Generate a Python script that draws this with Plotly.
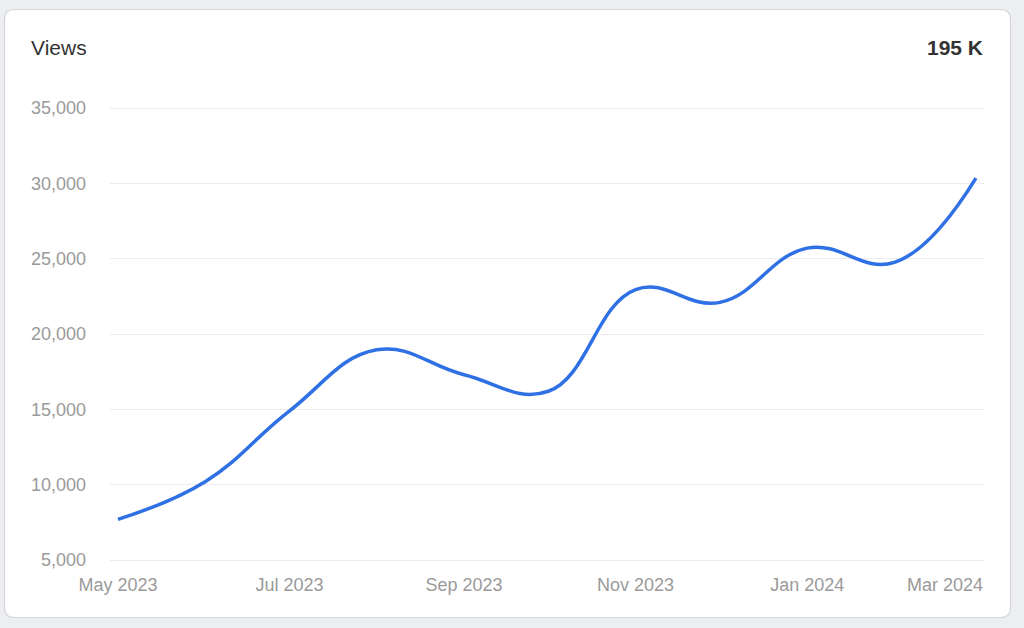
import plotly.graph_objects as go

# ---- data ----
months = ["2023-05-01", "2023-06-01", "2023-07-01", "2023-08-01", "2023-09-01",
          "2023-10-01", "2023-11-01", "2023-12-01", "2024-01-01", "2024-02-01",
          "2024-03-01"]
views = [7700, 10200, 14900, 18950, 17300, 16200, 22950, 22100, 25700, 24750, 30350]

tick_dates = ["2023-05-01", "2023-07-01", "2023-09-01", "2023-11-01", "2024-01-01", "2024-03-01"]
tick_labels = ["May 2023", "Jul 2023", "Sep 2023", "Nov 2023", "Jan 2024", "Mar 2024"]
y_ticks = [5000, 10000, 15000, 20000, 25000, 30000, 35000]

title_text = "Views"
total_text = "195 K"

# ---- layout geometry (pixels) ----
W, H = 1024, 628
PAD = 3
L, R, T, B = 110, 985, 108 - PAD, 560 + PAD   # plot area edges in pixels
Y0, Y1 = 5000, 35000
upp = (Y1 - Y0) / (B - T - 2 * PAD)            # value units per pixel

def px(x):
    return (x - L) / (R - L)

def py(y):
    return (B - y) / (B - T)

FONT = "Liberation Sans, Arial, Helvetica, sans-serif"

fig = go.Figure()
fig.add_trace(go.Scatter(
    x=months, y=views, mode="lines",
    line=dict(color="#2f71e5", width=3.5, shape="spline", smoothing=1.2),
    hoverinfo="x+y", showlegend=False,
))

# rounded card behind the chart
cx0, cy0, cx1, cy1, r = 4.5, 9.5, 1010.5, 617.5, 10
path = (
    f"M {px(cx0 + r)} {py(cy0)} L {px(cx1 - r)} {py(cy0)} "
    f"Q {px(cx1)} {py(cy0)} {px(cx1)} {py(cy0 + r)} "
    f"L {px(cx1)} {py(cy1 - r)} Q {px(cx1)} {py(cy1)} {px(cx1 - r)} {py(cy1)} "
    f"L {px(cx0 + r)} {py(cy1)} Q {px(cx0)} {py(cy1)} {px(cx0)} {py(cy1 - r)} "
    f"L {px(cx0)} {py(cy0 + r)} Q {px(cx0)} {py(cy0)} {px(cx0 + r)} {py(cy0)} Z"
)
fig.add_shape(type="path", path=path, xref="paper", yref="paper",
              fillcolor="white", line=dict(color="#d4d6da", width=1.2), layer="below")

fig.add_annotation(text=title_text, xref="paper", yref="paper", x=px(29), y=py(47),
                   xanchor="left", yanchor="middle", showarrow=False,
                   font=dict(family=FONT, size=21, color="#333333"))
fig.add_annotation(text=f"<b>{total_text}</b>", xref="paper", yref="paper", x=px(985), y=py(47),
                   xanchor="right", yanchor="middle", showarrow=False,
                   font=dict(family=FONT, size=21, color="#333333"))
# last x label is right-aligned inside the card
fig.add_annotation(text=tick_labels[-1], x=tick_dates[-1], xref="x", yref="paper", y=py(585),
                   xanchor="right", yanchor="middle", xshift=R - 976, showarrow=False,
                   font=dict(family=FONT, size=18, color="#9a9a9a"))

fig.update_layout(
    width=W, height=H,
    margin=dict(l=L, r=W - R, t=T, b=H - B, pad=0),
    paper_bgcolor="#eceef1",
    plot_bgcolor="rgba(0,0,0,0)",
    font=dict(family=FONT, size=18, color="#9a9a9a"),
    xaxis=dict(
        type="date",
        range=["2023-04-28 04:00", "2024-03-04 05:00"],
        tickvals=tick_dates[:-1], ticktext=tick_labels[:-1],
        showgrid=False, zeroline=False, showline=False, ticks="",
        ticklabelstandoff=9,
        tickfont=dict(family=FONT, size=18, color="#9a9a9a"),
    ),
    yaxis=dict(
        range=[Y0 - PAD * upp, Y1 + PAD * upp],
        tickvals=y_ticks, tickformat=",",
        showgrid=True, gridcolor="#ececec", gridwidth=1,
        zeroline=False, showline=False, ticks="",
        ticklabelstandoff=23,
        tickfont=dict(family=FONT, size=18, color="#9a9a9a"),
    ),
)

fig.write_html("out.html")
